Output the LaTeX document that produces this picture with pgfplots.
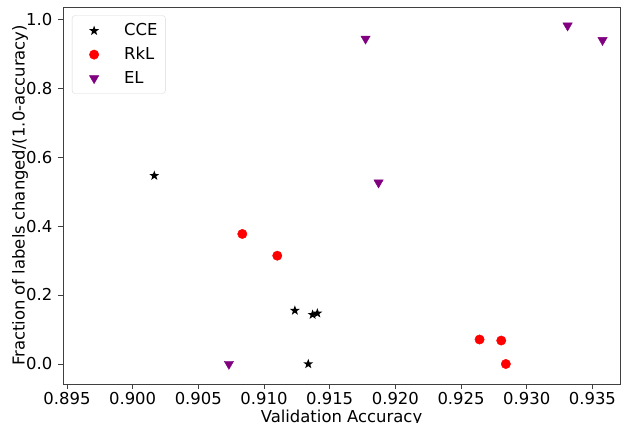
\documentclass[border=0pt]{standalone}
\usepackage{fontspec}
\setmainfont{DejaVu Sans}
\usepackage{pgfplots}
\pgfplotsset{compat=1.18}
\definecolor{mplpurple}{HTML}{800080}
\definecolor{spine}{HTML}{404040}
% filled five-pointed star like matplotlib's '*'
\pgfdeclareplotmark{fstar}{%
  \pgfpathmoveto{\pgfpointpolar{90}{\pgfplotmarksize}}%
  \pgfpathlineto{\pgfpointpolar{126}{0.40\pgfplotmarksize}}%
  \pgfpathlineto{\pgfpointpolar{162}{\pgfplotmarksize}}%
  \pgfpathlineto{\pgfpointpolar{198}{0.40\pgfplotmarksize}}%
  \pgfpathlineto{\pgfpointpolar{234}{\pgfplotmarksize}}%
  \pgfpathlineto{\pgfpointpolar{270}{0.40\pgfplotmarksize}}%
  \pgfpathlineto{\pgfpointpolar{306}{\pgfplotmarksize}}%
  \pgfpathlineto{\pgfpointpolar{342}{0.40\pgfplotmarksize}}%
  \pgfpathlineto{\pgfpointpolar{18}{\pgfplotmarksize}}%
  \pgfpathlineto{\pgfpointpolar{54}{0.40\pgfplotmarksize}}%
  \pgfpathclose\pgfusepathqfill}
\begin{document}
\fontsize{16.5}{19.8}\selectfont
\begin{tikzpicture}
\begin{axis}[
    scale only axis, width=557bp, height=377bp,
    xmin=0.8947, xmax=0.9371, ymin=-0.058, ymax=1.035,
    xtick={0.895,0.900,0.905,0.910,0.915,0.920,0.925,0.930,0.935},
    xticklabels={0.895,0.900,0.905,0.910,0.915,0.920,0.925,0.930,0.935},
    ytick={0,0.2,0.4,0.6,0.8,1.0},
    yticklabels={0.0,0.2,0.4,0.6,0.8,1.0},
    tick align=outside, tick pos=left, major tick length=5bp,
    tick style={spine, line width=0.8pt},
    axis line style={spine, line width=0.8pt},
    /pgf/number format/assume math mode=true,
    ticklabel style={font=\fontsize{16.5}{19.8}\selectfont},
    xticklabel style={yshift=2bp},
    label style={font=\fontsize{16.5}{19.8}\selectfont},
    xlabel={Validation Accuracy},
    ylabel={Fraction of labels changed/(1.0-accuracy)},
    xlabel style={yshift=6bp},
    ylabel style={yshift=-13bp},
    legend cell align=left,
    legend image code/.code={%
        \path[draw=none, fill=none] (0bp,-5bp) rectangle (44bp,5bp);
        \draw[#1] plot coordinates {(16bp,0bp)};},
    legend style={at={(0.016,0.978)}, anchor=north west,
        fill=white, row sep=5bp, inner xsep=6bp, inner ysep=6bp,
        font=\fontsize{16.5}{19.8}\selectfont},
    every axis legend/.append style={draw=black!15, rounded corners=3bp},
]
\addplot[only marks, mark=fstar, mark size=5.2bp, black] coordinates {
  (0.90165,0.546) (0.91235,0.155) (0.91370,0.143) (0.91406,0.147) (0.91337,0.000)};
\addlegendentry{CCE}
\addplot[only marks, mark=*, mark size=4.7bp, red, mark options={draw=red, fill=red}] coordinates {
  (0.90835,0.377) (0.91101,0.314) (0.92641,0.071) (0.92806,0.068) (0.92841,0.000)};
\addlegendentry{RkL}
\addplot[only marks, mark=triangle*, mark size=5.4bp, mplpurple,
    mark options={rotate=180, draw=mplpurple, fill=mplpurple}] coordinates {
  (0.93311,0.981) (0.91773,0.943) (0.93577,0.939) (0.91872,0.526) (0.90733,0.000)};
\addlegendentry{EL}
\end{axis}
\pgfresetboundingbox
\path[use as bounding box] ([shift={(-63bp,-39bp)}]current axis.south west)
  rectangle ([shift={(2bp,7bp)}]current axis.north east);
\end{tikzpicture}
\end{document}
